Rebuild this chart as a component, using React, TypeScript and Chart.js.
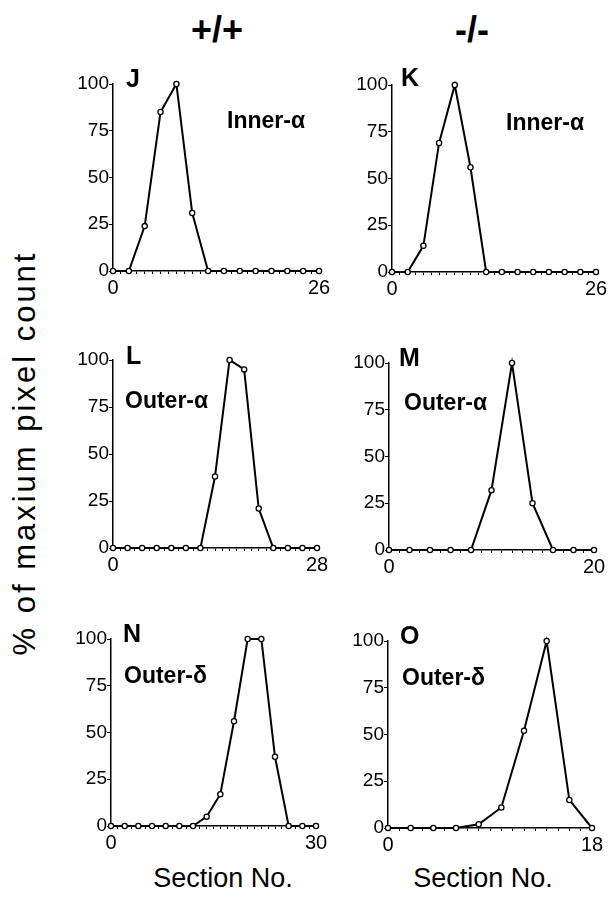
import React, { useEffect, useRef } from "react";
import { Chart, registerables } from "chart.js";

Chart.register(...registerables);

const FONT = "'Liberation Sans', Arial, Helvetica, sans-serif";

// Section numbers (x) and % of maximum pixel count (y) for each panel
const xJ = [0, 2, 4, 6, 8, 10, 12, 14, 16, 18, 20, 22, 24, 26];
const yJ = [0, 0, 24, 85, 100, 31, 0, 0, 0, 0, 0, 0, 0, 0];

const xK = [0, 2, 4, 6, 8, 10, 12, 14, 16, 18, 20, 22, 24, 26];
const yK = [0, 0, 14, 69, 100, 56, 0, 0, 0, 0, 0, 0, 0, 0];

const xL = [0, 2, 4, 6, 8, 10, 12, 14, 16, 18, 20, 22, 24, 26, 28];
const yL = [0, 0, 0, 0, 0, 0, 0, 38, 100, 95, 21, 0, 0, 0, 0];

const xM = [0, 2, 4, 6, 8, 10, 12, 14, 16, 18, 20];
const yM = [0, 0, 0, 0, 0, 32, 100, 25, 0, 0, 0];

const xN = [0, 2, 4, 6, 8, 10, 12, 14, 16, 18, 20, 22, 24, 26, 28, 30];
const yN = [0, 0, 0, 0, 0, 0, 0, 5, 17, 56, 100, 100, 37, 0, 0, 0];

const xO = [0, 2, 4, 6, 8, 10, 12, 14, 16, 18];
const yO = [0, 0, 0, 0, 2, 11, 52, 100, 15, 0];

const yTicks = [0, 25, 50, 75, 100];

const YW = 50;
const PT = 12;
const PR = 18;
const XH = 32;

type PanelProps = {
  xs: number[];
  ys: number[];
  xMax: number;
  axisX: number;
  endX: number;
  y100: number;
  y0: number;
};

function Panel({ xs, ys, xMax, axisX, endX, y100, y0 }: PanelProps) {
  const ref = useRef<HTMLCanvasElement | null>(null);
  const w = YW + (endX - axisX) + PR;
  const h = PT + (y0 - y100) + XH;

  useEffect(() => {
    if (!ref.current) return;
    const chart = new Chart(ref.current, {
      type: "line",
      data: {
        datasets: [
          {
            data: xs.map((x, i) => ({ x, y: ys[i] })),
            borderColor: "#000",
            borderWidth: 2,
            pointRadius: 2.6,
            pointBackgroundColor: "#fff",
            pointBorderColor: "#000",
            pointBorderWidth: 1.3,
            tension: 0,
            clip: false as any,
          },
        ],
      },
      options: {
        responsive: false,
        animation: false,
        events: [],
        layout: { padding: { top: PT, right: PR, left: 0, bottom: 0 } },
        plugins: { legend: { display: false }, tooltip: { enabled: false } },
        scales: {
          x: {
            type: "linear",
            min: 0,
            max: xMax,
            border: { display: true, color: "#000", width: 1.5 },
            grid: {
              display: true,
              drawOnChartArea: false,
              drawTicks: true,
              tickLength: 3,
              color: "#000",
              lineWidth: 1,
            },
            ticks: {
              stepSize: 1,
              autoSkip: false,
              maxRotation: 0,
              includeBounds: true,
              color: "#000",
              padding: 2,
              font: { size: 20, family: FONT },
              callback: (v: any) => (v === 0 || v === xMax ? String(v) : ""),
            },
            afterFit: (s: any) => {
              s.height = XH;
            },
          },
          y: {
            type: "linear",
            min: 0,
            max: 100,
            border: { display: true, color: "#000", width: 1.5 },
            grid: {
              display: true,
              drawOnChartArea: false,
              drawTicks: true,
              tickLength: 4,
              color: "#000",
              lineWidth: 1,
            },
            afterBuildTicks: (s: any) => {
              s.ticks = yTicks.map((v) => ({ value: v }));
            },
            ticks: {
              color: "#000",
              padding: 0,
              font: { size: 19, family: FONT },
            },
            afterFit: (s: any) => {
              s.width = YW;
            },
          },
        },
      },
    });
    return () => chart.destroy();
  }, []);

  return (
    <canvas
      ref={ref}
      width={w}
      height={h}
      style={{ position: "absolute", left: axisX - YW, top: y100 - PT, width: w, height: h }}
    />
  );
}

function Txt({ x, y, size, bold, children, center, spacing }: any) {
  return (
    <div
      style={{
        position: "absolute",
        left: center ? x - 150 : x,
        top: y,
        width: center ? 300 : undefined,
        textAlign: center ? "center" : "left",
        fontSize: size,
        fontWeight: bold ? "bold" : "normal",
        fontFamily: FONT,
        letterSpacing: spacing || 0,
        lineHeight: 1,
        whiteSpace: "nowrap",
        color: "#000",
      }}
    >
      {children}
    </div>
  );
}

export default function App() {
  return (
    <div
      style={{
        position: "fixed",
        left: 0,
        top: 0,
        width: 615,
        height: 900,
        background: "#fff",
        overflow: "hidden",
      }}
    >
      <Txt x={217} y={12} size={36} bold center>+/+</Txt>
      <Txt x={472} y={12} size={36} bold center>-/-</Txt>

      <div
        style={{
          position: "absolute",
          left: 25 - 250,
          top: 453 - 17,
          width: 500,
          height: 34,
          lineHeight: "34px",
          textAlign: "center",
          transform: "rotate(-90deg)",
          fontFamily: FONT,
          fontSize: 31,
          letterSpacing: 3,
          whiteSpace: "nowrap",
          color: "#000",
        }}
      >
        % of maxium pixel count
      </div>

      <Panel xs={xJ} ys={yJ} xMax={26} axisX={113} endX={319} y100={84} y0={271} />
      <Panel xs={xK} ys={yK} xMax={26} axisX={392} endX={596} y100={85} y0={272} />
      <Panel xs={xL} ys={yL} xMax={28} axisX={113} endX={317} y100={360} y0={548} />
      <Panel xs={xM} ys={yM} xMax={20} axisX={389} endX={594} y100={363} y0={550} />
      <Panel xs={xN} ys={yN} xMax={30} axisX={111} endX={316} y100={639} y0={826} />
      <Panel xs={xO} ys={yO} xMax={18} axisX={388} endX={592} y100={641} y0={828} />

      <Txt x={126} y={66} size={25} bold>J</Txt>
      <Txt x={401} y={65} size={25} bold>K</Txt>
      <Txt x={126} y={343} size={25} bold>L</Txt>
      <Txt x={399} y={345} size={25} bold>M</Txt>
      <Txt x={123} y={621} size={25} bold>N</Txt>
      <Txt x={400} y={623} size={25} bold>O</Txt>

      <Txt x={227} y={109} size={23} bold>Inner-α</Txt>
      <Txt x={506} y={111} size={23} bold>Inner-α</Txt>
      <Txt x={125} y={389} size={23} bold>Outer-α</Txt>
      <Txt x={404} y={391} size={23} bold>Outer-α</Txt>
      <Txt x={124} y={664} size={23} bold>Outer-δ</Txt>
      <Txt x={402} y={666} size={23} bold>Outer-δ</Txt>

      <Txt x={223} y={865} size={27} center>Section No.</Txt>
      <Txt x={483} y={865} size={27} center>Section No.</Txt>
    </div>
  );
}
